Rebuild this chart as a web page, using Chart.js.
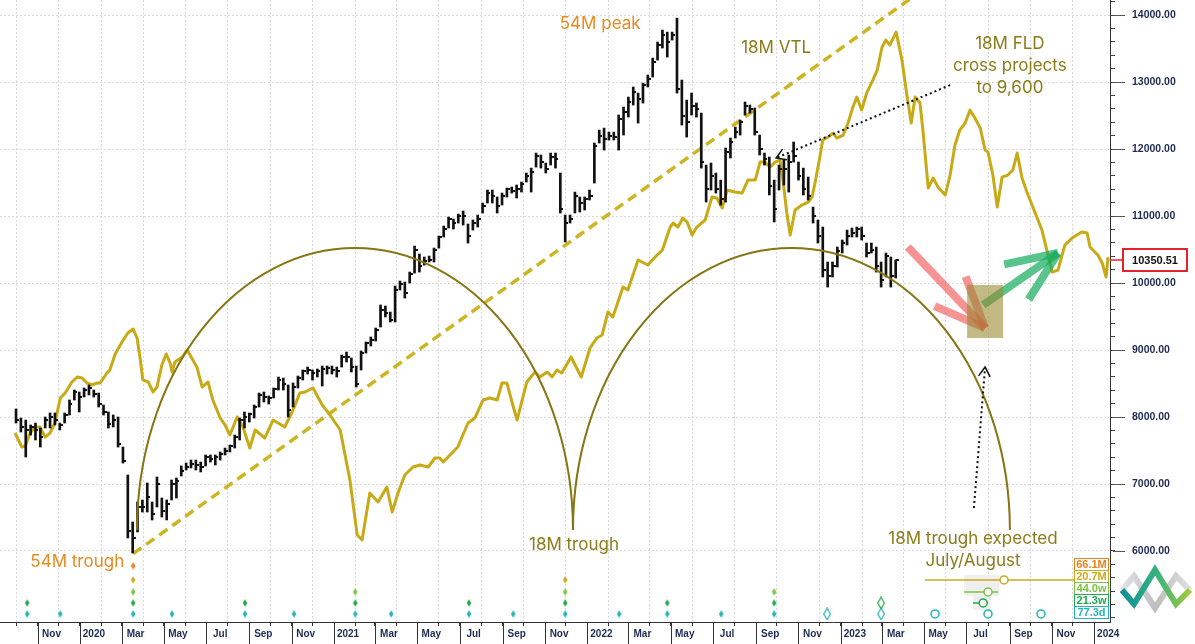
<!DOCTYPE html>
<html>
<head>
<meta charset="utf-8">
<script src="https://cdn.jsdelivr.net/npm/chart.js@4.4.0/dist/chart.umd.min.js"></script>
<style>
  html, body { margin: 0; padding: 0; background: #fff; }
</style>
</head>
<body>
<canvas id="chart" width="1195" height="644"></canvas>
<script>
// Weekly bars, week 0 = 1 Oct 2019
const firstWeek = Date.UTC(2019, 9, 1);

const barHigh = [
  8120, 7985, 7955, 7881, 7910, 7836, 8000, 8060, 8060, 7910,
  8060, 8254, 8403, 8373, 8433, 8478, 8403, 8358, 8179, 8075,
  8030, 8000, 7552, 7134, 6433, 6731, 6761, 7015, 6731, 7105,
  6791, 6761, 7060, 7090, 7269, 7313, 7358, 7358, 7328, 7433,
  7433, 7433, 7478, 7537, 7582, 7731, 7985, 8075, 8060, 8179,
  8358, 8373, 8314, 8433, 8597, 8582, 8478, 8508, 8612, 8702,
  8746, 8702, 8717, 8761, 8761, 8761, 8746, 8925, 8970, 8881,
  8761, 8985, 9119, 9194, 9328, 9672, 9657, 9567, 9955, 10030,
  10015, 10164, 10552, 10433, 10388, 10403, 10522, 10702, 10851, 10985,
  10955, 11030, 11075, 10881, 10941, 11015, 11194, 11388, 11388, 11284,
  11343, 11418, 11433, 11463, 11508, 11642, 11716, 11940, 11911, 11791,
  11940, 11940, 11642, 11015, 11015, 11358, 11284, 11284, 11388, 12090,
  12284, 12313, 12254, 12254, 12508, 12627, 12776, 12926, 12836, 12985,
  13105, 13358, 13597, 13776, 13746, 13746, 13955, 13030, 12731, 12836,
  12687, 12537, 11761, 11791, 11642, 11537, 12015, 12164, 12328, 12433,
  12702, 12657, 12612, 12209, 11940, 11881, 11537, 11761, 11836, 11911,
  12105, 11806, 11716, 11582, 11134, 10941, 10836, 10314, 10314, 10537,
  10642, 10791, 10821, 10836, 10836, 10597, 10597, 10537, 10314, 10448,
  10388, 10343
];
const barLow = [
  7910, 7776, 7403, 7731, 7657, 7552, 7836, 7836, 7881, 7806,
  7910, 8030, 8254, 8075, 8299, 8329, 8299, 8149, 8030, 7836,
  7851, 7552, 7313, 6194, 5970, 6284, 6582, 6582, 6463, 6657,
  6507, 6463, 6761, 6791, 7119, 7209, 7239, 7209, 7179, 7269,
  7328, 7284, 7358, 7433, 7478, 7537, 7657, 7836, 7925, 7985,
  8149, 8224, 8194, 8284, 8403, 8403, 8000, 8149, 8433, 8552,
  8642, 8552, 8597, 8463, 8642, 8642, 8597, 8746, 8821, 8672,
  8448, 8702, 8955, 9060, 9134, 9343, 9493, 9418, 9418, 9896,
  9776, 10000, 10149, 10164, 10269, 10314, 10314, 10522, 10687, 10821,
  10806, 10896, 10866, 10597, 10791, 10836, 11045, 11194, 11194, 11045,
  11164, 11284, 11343, 11269, 11358, 11508, 11358, 11731, 11716, 11642,
  11761, 11716, 11045, 10612, 10896, 11045, 11060, 11090, 11239, 11493,
  12090, 11985, 12135, 12135, 11985, 12209, 12478, 12657, 12388, 12687,
  12926, 13075, 13328, 13508, 13373, 13627, 12836, 12358, 12179, 12508,
  12478, 11716, 11209, 11388, 11343, 11164, 11209, 11866, 12164, 12209,
  12508, 12537, 12209, 11911, 11761, 11314, 10911, 11388, 11463, 11358,
  11806, 11537, 11314, 11239, 10896, 10597, 10090, 9940, 10090, 10239,
  10448, 10567, 10687, 10687, 10642, 10388, 10448, 10164, 9940, 10090,
  9940, 10075
];
const barClose = [
  7960, 7850, 7800, 7850, 7800, 7700, 7950, 8000, 7950, 7880,
  8030, 8200, 8380, 8300, 8400, 8440, 8350, 8200, 8080, 7900,
  7950, 7600, 7350, 6300, 6200, 6650, 6650, 6800, 6550, 7000,
  6600, 6700, 7000, 7050, 7200, 7250, 7300, 7280, 7250, 7400,
  7380, 7400, 7450, 7500, 7560, 7700, 7950, 8000, 8050, 8150,
  8330, 8300, 8280, 8420, 8550, 8500, 8100, 8450, 8580, 8680,
  8700, 8650, 8680, 8720, 8730, 8700, 8680, 8900, 8900, 8750,
  8500, 8950, 9100, 9150, 9300, 9600, 9550, 9450, 9900, 9980,
  9850, 10130, 10500, 10250, 10330, 10350, 10500, 10680, 10800, 10950,
  10900, 11000, 11000, 10700, 10900, 10950, 11150, 11350, 11300, 11150,
  11300, 11400, 11380, 11400, 11480, 11600, 11650, 11900, 11800, 11700,
  11880, 11850, 11100, 10900, 10950, 11300, 11200, 11250, 11300, 12050,
  12200, 12150, 12200, 12180, 12450, 12550, 12700, 12850, 12750, 12950,
  13050, 13300, 13550, 13700, 13600, 13700, 12900, 12500, 12400, 12650,
  12600, 11800, 11400, 11600, 11400, 11250, 11950, 12100, 12250, 12400,
  12650, 12600, 12250, 12000, 11850, 11450, 11100, 11700, 11700, 11800,
  11900, 11600, 11400, 11300, 11000, 10700, 10200, 10100, 10250, 10480,
  10600, 10700, 10750, 10800, 10700, 10450, 10500, 10250, 10050, 10400,
  10100, 10350.51
];

// 18M FLD (week position, value)
const fldWeeks = [
  -0.2, 1.2, 1.9, 2.9, 3.9, 4.9, 6.0, 7.0, 8.0, 9.1, 10.1, 11.5, 12.6, 13.6, 14.6, 15.6, 16.7, 17.3, 18.7, 19.3,
  20.4, 21.8, 23.0, 24.1, 24.9, 25.5, 26.1, 27.2, 28.2, 29.0, 30.0, 30.9, 31.7, 32.1, 32.7, 34.2, 35.2, 35.8, 37.2, 38.3,
  39.5, 40.5, 42.0, 43.0, 44.0, 45.5, 46.7, 48.1, 49.2, 51.2, 52.9, 55.3, 57.0, 58.4, 59.5, 61.1, 63.0, 64.6, 66.7, 68.7,
  70.2, 71.2, 72.8, 74.5, 76.3, 77.4, 78.6, 80.0, 81.7, 83.1, 84.8, 86.2, 87.2, 87.9, 89.7, 90.9, 93.0, 94.4, 96.1, 97.5,
  99.0, 100.0, 101.0, 102.1, 103.1, 105.1, 106.8, 107.8, 109.3, 110.3, 111.3, 112.3, 114.2, 116.3, 118.1, 119.5, 120.6, 121.8, 122.8, 124.9,
  125.9, 128.0, 130.0, 131.9, 133.0, 134.6, 135.2, 136.2, 137.2, 138.1, 139.1, 140.1, 141.8, 143.2, 144.2, 145.3, 146.3, 147.9, 149.4, 150.6,
  152.1, 153.1, 154.1, 155.1, 156.2, 157.2, 157.8, 158.6, 159.3, 160.3, 161.7, 163.0, 163.8, 164.4, 165.4, 166.0, 167.1, 168.1, 168.9, 170.2,
  171.2, 172.2, 173.0, 174.0, 175.1, 176.3, 177.2, 178.2, 179.0, 179.8, 181.1, 182.3, 183.3, 184.2, 185.0, 186.0, 186.6, 187.7, 188.7, 189.7,
  191.2, 192.2, 193.2, 194.2, 195.3, 196.3, 197.3, 198.4, 199.4, 200.0, 201.0, 201.9, 202.9, 204.1, 205.1, 206.0, 207.0, 208.0, 209.3, 211.1,
  213.2, 214.4, 215.8, 217.3, 219.3, 220.4, 221.0, 222.6, 223.5, 224.3, 224.7
];
const fldValues = [
  7761, 7552, 7567, 7761, 7851, 7851, 7701, 7761, 7911, 8284, 8359, 8523, 8597, 8582, 8508, 8478, 8508, 8508, 8657, 8702,
  8941, 9120, 9254, 9314, 9179, 8896, 8553, 8523, 8373, 8448, 8776, 8941, 8806, 8672, 8821, 8896, 9000, 8926, 8747, 8448,
  8523, 8254, 7985, 7881, 7731, 8000, 7851, 7537, 7806, 7687, 7955, 7851, 8105, 8359, 8373, 8433, 8180, 8030, 7806, 7060,
  6239, 6165, 6866, 6732, 6955, 6582, 6866, 7135, 7254, 7284, 7254, 7388, 7388, 7329, 7463, 7552, 7911, 7985, 8254, 8284,
  8254, 8508, 8508, 8209, 7955, 8523, 8672, 8597, 8672, 8597, 8702, 8657, 8896, 8597, 9030, 9179, 9224, 9568, 9493, 9941,
  9896, 10344, 10269, 10418, 10493, 10836, 10896, 10836, 10970, 10911, 10717, 10836, 10941, 11284, 11269, 11120, 11388, 11358, 11343, 11537,
  11537, 11806, 11806, 11731, 11806, 11836, 11537, 11045, 10717, 11090, 11164, 11209, 11284, 11493, 11881, 12135, 12179, 12239, 12164, 12209,
  12388, 12627, 12776, 12582, 12851, 13030, 13179, 13523, 13627, 13552, 13746, 13328, 12806, 12388, 12776, 12687, 12284, 11418, 11567, 11433,
  11314, 11612, 12060, 12284, 12388, 12582, 12463, 12314, 11985, 11955, 11612, 11134, 11582, 11612, 11687, 11940, 11567, 11358, 11120, 10791,
  10164, 10194, 10567, 10672, 10761, 10747, 10537, 10418, 10299, 10090, 10388
];

// 18M valid trend line and the two 18M cycle arcs
const vtlWeeks = [24.1, 202.5];
const vtlValues = [5960, 15200];
const arcStarts = [24.9, 114.6];
const arcEnds = [114.6, 204.5];
const arcBase = 6314;
const arcTop = 10523;
const lastClose = 10350.51;

const monthNames = ['Jan', 'Feb', 'Mar', 'Apr', 'May', 'Jun', 'Jul', 'Aug', 'Sep', 'Oct', 'Nov', 'Dec'];

// cycle trough markers, top row to bottom row
const cycleNames = ['66.1M', '20.7M', '44.0w', '21.3w', '77.3d'];
const cycleColors = ['#e8821e', '#c9aa1c', '#7cc242', '#22a84e', '#22b4b8'];
const cycleLevels = [5777, 5568, 5388, 5224, 5060];
const troughWeeks = [
  [24.1],
  [24.1, 113.0],
  [24.1, 69.8, 113.0, 156.0],
  [2.3, 24.1, 47.1, 69.8, 93.2, 113.0, 134.0, 156.0],
  [2.3, 9.1, 24.1, 32.1, 47.1, 57.2, 69.8, 77.2, 93.2, 102.3, 113.0, 124.1, 134.0, 145.1, 156.0]
];
const pendingWeeks = [[], [], [], [178.0], [166.9, 178.0]];
const projStart = [null, 187.0, 195.1, 196.9, null];
const projEnd = [null, 217.7, 202.1, 200.0, null];
const projMid = [[], [203.3], [200.0], [199.0], [189.1, 200.0, 210.9]];

// month ticks: labels on odd months, dotted grid on even months
const weekOf = (y, m) => (Date.UTC(y, m, 1) - firstWeek) / (7 * 864e5);
const monthTicks = [];
for (let yr = 2019; yr <= 2024; yr++) {
  for (let m = 0; m < 12; m++) {
    if ((yr === 2019 && m < 9) || (yr === 2024 && m > 0)) continue;
    const labelled = m % 2 === 0;
    monthTicks.push({
      value: weekOf(yr, m),
      lbl: labelled ? (m === 0 ? String(yr) : monthNames[m]) : '',
      grid: !labelled
    });
  }
}

function diamond(color, hollow) {
  const c = document.createElement('canvas');
  const w = hollow ? 8 : 6, h = hollow ? 13 : 9;
  c.width = w; c.height = h;
  const g = c.getContext('2d');
  g.beginPath();
  g.moveTo(w / 2, 0.7); g.lineTo(w - 0.7, h / 2); g.lineTo(w / 2, h - 0.7); g.lineTo(0.7, h / 2);
  g.closePath();
  if (hollow) { g.strokeStyle = color; g.lineWidth = 1.2; g.stroke(); }
  else { g.fillStyle = color; g.fill(); }
  return c;
}

const closeTick = document.createElement('canvas');
closeTick.width = 6; closeTick.height = 2;
closeTick.getContext('2d').fillStyle = '#111';
closeTick.getContext('2d').fillRect(3, 0, 3, 2);

const datasets = [
  {
    type: 'bar',
    data: barHigh.map((h, i) => ({ x: i, y: [barLow[i], h] })),
    backgroundColor: '#111',
    barThickness: 2,
    grouped: false,
    borderWidth: 0,
    order: 0
  },
  {
    type: 'line',
    data: barClose.map((c, i) => ({ x: i, y: c })),
    showLine: false,
    pointStyle: closeTick,
    pointRadius: 3,
    order: 0
  },
  {
    type: 'line',
    data: fldWeeks.map((w, i) => ({ x: w, y: fldValues[i] })),
    borderColor: '#c8aa16',
    borderWidth: 3,
    borderJoinStyle: 'round',
    pointRadius: 0,
    tension: 0,
    order: 3
  },
  {
    type: 'line',
    data: vtlWeeks.map((w, i) => ({ x: w, y: vtlValues[i] })),
    borderColor: '#cdb522',
    borderWidth: 3.5,
    borderDash: [10, 6],
    pointRadius: 0,
    order: 4
  }
];

cycleNames.forEach((name, k) => {
  datasets.push({
    type: 'line', showLine: false, order: 1,
    data: troughWeeks[k].map(w => ({ x: w, y: cycleLevels[k] })),
    pointStyle: diamond(cycleColors[k], false), pointRadius: 4
  });
  if (pendingWeeks[k].length) {
    datasets.push({
      type: 'line', showLine: false, order: 1,
      data: pendingWeeks[k].map(w => ({ x: w, y: cycleLevels[k] })),
      pointStyle: diamond(cycleColors[k], true), pointRadius: 5
    });
  }
  if (projStart[k] !== null) {
    datasets.push({
      type: 'line', order: 2, pointRadius: 0,
      data: [{ x: projStart[k], y: cycleLevels[k] }, { x: projEnd[k], y: cycleLevels[k] }],
      borderColor: cycleColors[k], borderWidth: 1.5
    });
  }
  datasets.push({
    type: 'line', showLine: false, order: 1,
    data: projMid[k].map(w => ({ x: w, y: cycleLevels[k] })),
    pointStyle: 'circle', pointRadius: 4, borderWidth: 1.5,
    borderColor: cycleColors[k], backgroundColor: '#fff'
  });
});

const olive = '#8c7b1a';
const orange = '#e98a1f';
const notes = [
  { t: '54M peak', w: 120.2, v: 13866, c: orange },
  { t: '54M trough', w: 12.6, v: 5836, c: orange },
  { t: '18M trough', w: 114.8, v: 6090, c: olive },
  { t: '18M VTL', w: 156.4, v: 13508, c: olive },
  { t: '18M FLD', w: 204.5, v: 13567, c: olive },
  { t: 'cross projects', w: 204.5, v: 13239, c: olive },
  { t: 'to 9,600', w: 204.5, v: 12911, c: olive },
  { t: '18M trough expected', w: 196.9, v: 6180, c: olive },
  { t: 'July/August', w: 196.9, v: 5851, c: olive }
];

function thickArrow(ctx, x1, y1, x2, y2, color) {
  const a = Math.atan2(y1 - y2, x1 - x2);
  ctx.strokeStyle = color;
  ctx.lineWidth = 8;
  ctx.lineCap = 'butt';
  const ends = [[x1, y1],
    [x2 + 55 * Math.cos(a + 0.4), y2 + 55 * Math.sin(a + 0.4)],
    [x2 + 55 * Math.cos(a - 0.4), y2 + 55 * Math.sin(a - 0.4)]];
  ends.forEach(([px, py]) => {
    ctx.beginPath(); ctx.moveTo(x2, y2); ctx.lineTo(px, py); ctx.stroke();
  });
}

function dottedArrow(ctx, x1, y1, x2, y2) {
  ctx.strokeStyle = '#111';
  ctx.lineWidth = 2;
  ctx.setLineDash([2, 3]);
  ctx.beginPath(); ctx.moveTo(x1, y1); ctx.lineTo(x2, y2); ctx.stroke();
  ctx.setLineDash([]);
  ctx.lineWidth = 1.5;
  const a = Math.atan2(y1 - y2, x1 - x2);
  ctx.beginPath();
  ctx.moveTo(x2 + 11 * Math.cos(a + 0.55), y2 + 11 * Math.sin(a + 0.55));
  ctx.lineTo(x2, y2);
  ctx.lineTo(x2 + 11 * Math.cos(a - 0.55), y2 + 11 * Math.sin(a - 0.55));
  ctx.stroke();
}

const decor = {
  id: 'decor',
  beforeDatasetsDraw(chart) {
    const { ctx, scales: { x, y } } = chart;
    ctx.save();
    ctx.fillStyle = '#efefef';
    const r1 = [x.getPixelForValue(195.1), y.getPixelForValue(5640), x.getPixelForValue(202.3), y.getPixelForValue(5330)];
    const r2 = [x.getPixelForValue(196.9), y.getPixelForValue(5330), x.getPixelForValue(200.6), y.getPixelForValue(5120)];
    [r1, r2].forEach(r => ctx.fillRect(r[0], r[1], r[2] - r[0], r[3] - r[1]));
    ctx.restore();
  },
  afterDatasetsDraw(chart) {
    const { ctx, chartArea: ca, scales: { x, y } } = chart;
    ctx.save();
    ctx.beginPath();
    ctx.rect(ca.left, ca.top, ca.right - ca.left, ca.bottom - ca.top);
    ctx.clip();

    // cycle arcs
    ctx.strokeStyle = '#877412';
    ctx.lineWidth = 2;
    arcStarts.forEach((s, k) => {
      const x1 = x.getPixelForValue(s), x2 = x.getPixelForValue(arcEnds[k]);
      const yb = y.getPixelForValue(arcBase), yt = y.getPixelForValue(arcTop);
      ctx.beginPath();
      ctx.ellipse((x1 + x2) / 2, yb, (x2 - x1) / 2, yb - yt, 0, Math.PI, 2 * Math.PI);
      ctx.stroke();
    });

    // projection arrows and target box
    thickArrow(ctx, x.getPixelForValue(183.5), y.getPixelForValue(10537),
      x.getPixelForValue(199.4), y.getPixelForValue(9329), 'rgba(240,80,80,0.62)');
    thickArrow(ctx, x.getPixelForValue(199.0), y.getPixelForValue(9672),
      x.getPixelForValue(214.4), y.getPixelForValue(10448), 'rgba(25,175,95,0.72)');
    ctx.fillStyle = 'rgba(150,135,45,0.58)';
    const bx1 = x.getPixelForValue(195.7), bx2 = x.getPixelForValue(203.1);
    const by1 = y.getPixelForValue(9970), by2 = y.getPixelForValue(9179);
    ctx.fillRect(bx1, by1, bx2 - bx1, by2 - by1);

    dottedArrow(ctx, x.getPixelForValue(192.2), y.getPixelForValue(12955),
      x.getPixelForValue(156.4), y.getPixelForValue(11866));
    dottedArrow(ctx, x.getPixelForValue(197.1), y.getPixelForValue(6642),
      x.getPixelForValue(199.4), y.getPixelForValue(8746));

    // notes
    ctx.font = '17px Inter';
    ctx.textAlign = 'center';
    ctx.textBaseline = 'middle';
    notes.forEach(n => {
      ctx.fillStyle = n.c;
      ctx.fillText(n.t, x.getPixelForValue(n.w), y.getPixelForValue(n.v));
    });
    ctx.restore();
  },
  afterDraw(chart) {
    const { ctx, chartArea: ca, scales: { x, y } } = chart;
    ctx.save();
    // long ticks under labelled months
    ctx.strokeStyle = '#333';
    ctx.lineWidth = 1;
    monthTicks.filter(t => t.lbl).forEach(t => {
      const px = Math.round(x.getPixelForValue(t.value)) + 0.5;
      ctx.beginPath(); ctx.moveTo(px, x.top); ctx.lineTo(px, x.bottom); ctx.stroke();
    });
    // major dashes on the price axis
    ctx.strokeStyle = '#555';
    for (let v = 6000; v <= 14000; v += 1000) {
      const py = Math.round(y.getPixelForValue(v)) + 0.5;
      ctx.beginPath(); ctx.moveTo(ca.right + 3, py); ctx.lineTo(ca.right + 15, py); ctx.stroke();
    }
    // last price marker
    const py = Math.round(y.getPixelForValue(lastClose));
    ctx.strokeStyle = '#e3222b';
    ctx.lineWidth = 1.5;
    ctx.beginPath(); ctx.moveTo(ca.right, py); ctx.lineTo(ca.right + 13, py); ctx.stroke();
    ctx.fillStyle = '#fff';
    ctx.fillRect(ca.right + 13, py - 11, 64, 22);
    ctx.lineWidth = 2;
    ctx.strokeRect(ca.right + 13, py - 11, 64, 22);
    ctx.fillStyle = '#111';
    ctx.font = 'bold 11px "Liberation Sans"';
    ctx.textAlign = 'center';
    ctx.textBaseline = 'middle';
    ctx.fillText(lastClose.toFixed(2), ca.right + 45, py + 1);

    // cycle length boxes
    ctx.lineWidth = 1;
    cycleNames.forEach((name, k) => {
      const top = ca.bottom - 64 + 12 * k;
      ctx.fillStyle = '#fff';
      ctx.fillRect(ca.right - 36, top, 34, 12);
      ctx.strokeStyle = cycleColors[k];
      ctx.strokeRect(ca.right - 35.5, top + 0.5, 34, 12);
      ctx.fillStyle = cycleColors[k];
      ctx.fillText(name, ca.right - 18.5, top + 7);
    });

    // logo
    const lx = ca.right + 12, ly = ca.bottom - 32;
    const gray = ctx.createLinearGradient(lx, 0, lx + 68, 0);
    gray.addColorStop(0, '#e4e4e4'); gray.addColorStop(0.5, '#bdbdbd'); gray.addColorStop(1, '#e0e0e0');
    const col = ctx.createLinearGradient(lx, 0, lx + 68, 0);
    col.addColorStop(0, '#138f9c'); col.addColorStop(0.5, '#33b27f'); col.addColorStop(1, '#a3cc3a');
    ctx.lineWidth = 6;
    ctx.lineJoin = 'miter';
    ctx.strokeStyle = gray;
    ctx.beginPath();
    ctx.moveTo(lx, ly); ctx.lineTo(lx + 12, ly - 14); ctx.lineTo(lx + 33, ly + 18);
    ctx.lineTo(lx + 54, ly - 14); ctx.lineTo(lx + 68, ly);
    ctx.stroke();
    ctx.strokeStyle = col;
    ctx.beginPath();
    ctx.moveTo(lx, ly); ctx.lineTo(lx + 12, ly + 14); ctx.lineTo(lx + 33, ly - 20);
    ctx.lineTo(lx + 54, ly + 14); ctx.lineTo(lx + 68, ly);
    ctx.stroke();
    ctx.restore();
  }
};

new Chart(document.getElementById('chart'), {
  type: 'line',
  data: { datasets },
  options: {
    responsive: false,
    devicePixelRatio: 1,
    animation: false,
    events: [],
    layout: { padding: 0, autoPadding: false },
    plugins: { legend: { display: false }, tooltip: { enabled: false } },
    scales: {
      x: {
        type: 'linear',
        min: -3.3,
        max: 225.1,
        offset: false,
        afterFit: s => {
          s.height = 22;
          s.paddingLeft = 0; s.paddingRight = 0; s.paddingTop = 0; s.paddingBottom = 0;
        },
        afterBuildTicks: s => { s.ticks = monthTicks.map(t => ({ ...t })); },
        grid: {
          offset: false,
          color: c => (c.tick && c.tick.grid ? '#d9d9d9' : 'transparent'),
          tickColor: '#333',
          tickLength: 4
        },
        border: { color: '#333', dash: [2, 2] },
        ticks: {
          autoSkip: false,
          maxRotation: 0,
          padding: 2,
          labelOffset: 14,
          color: '#1d2b53',
          font: { family: 'Liberation Sans', size: 10, weight: 'bold' },
          callback: (v, i, ticks) => ticks[i].lbl
        }
      },
      y: {
        type: 'linear',
        position: 'right',
        min: 4940,
        max: 14225,
        afterFit: s => {
          s.width = 85;
          s.paddingLeft = 0; s.paddingRight = 0; s.paddingTop = 0; s.paddingBottom = 0;
        },
        afterBuildTicks: s => {
          const t = [];
          for (let v = 5000; v <= 14200; v += 200) t.push({ value: v });
          s.ticks = t;
        },
        grid: {
          color: c => (c.tick && c.tick.value % 1000 === 0 && c.tick.value >= 6000 ? '#d9d9d9' : 'transparent'),
          tickColor: '#444',
          tickLength: 5
        },
        border: { color: '#333', dash: [2, 2] },
        ticks: {
          autoSkip: false,
          padding: 17,
          color: '#1d2b53',
          font: { family: 'Liberation Sans', size: 10.5, weight: 'bold' },
          callback: v => (v % 1000 === 0 && v >= 6000 ? v.toFixed(2) : '')
        }
      }
    }
  },
  plugins: [decor]
});
</script>
</body>
</html>
